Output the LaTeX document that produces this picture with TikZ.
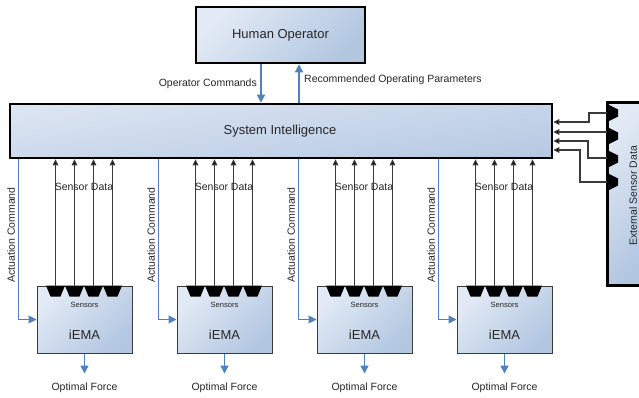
\documentclass[tikz,border=0pt]{standalone}
\usepackage{fontspec}
\setmainfont{Liberation Sans}
\usetikzlibrary{arrows.meta,calc}
\definecolor{boxA}{HTML}{E2EAF5}
\definecolor{boxB}{HTML}{B3C7E1}
\definecolor{siA}{HTML}{DCE5F2}
\definecolor{siB}{HTML}{B7CAE3}
\definecolor{arrowblue}{HTML}{4F81BD}
\definecolor{txt}{HTML}{262626}
\definecolor{lineg}{HTML}{3A3A3A}
\begin{document}
\begin{tikzpicture}[x=1pt,y=-1pt,
  box/.style={draw=black, top color=boxA, bottom color=boxB, shading angle=45, inner sep=0pt},
  bigbox/.style={box, line width=2.6pt},
  sibox/.style={draw=black, top color=siA, bottom color=siB, shading angle=8, inner sep=0pt, line width=2.6pt},
  iemabox/.style={box, draw=lineg, line width=1pt},
  lbl/.style={text=txt, inner sep=0pt, font=\fontsize{10.5}{12}\selectfont},
  biglbl/.style={text=txt, inner sep=0pt, font=\fontsize{13}{15}\selectfont},
  smalllbl/.style={text=txt, inner sep=0pt, font=\fontsize{7.6}{9}\selectfont},
  barrow/.style={draw=arrowblue, line width=1.4pt, -{Triangle[length=8pt,width=8pt]}},
  sens/.style={draw=lineg, line width=1.1pt, -{Triangle[length=6pt,width=5.5pt,fill=black]}}
]
\useasboundingbox (0,0) rectangle (639,398);
\clip (0,0) rectangle (639,398);

% Human operator and system intelligence
\node[bigbox, minimum width=169pt, minimum height=56pt] (ho) at (280.5,35) {};
\node[biglbl] (holbl) at (280.5,35) {Human Operator};
\node[sibox, minimum width=542pt, minimum height=54pt] (si) at (281,131) {};
\node[biglbl] (silbl) at (280,131) {System Intelligence};

\coordinate (oc) at ($(ho.south)+(-19.5,0)$);
\coordinate (rp) at ($(ho.south)+(18.5,0)$);
\draw[barrow] (oc) -- (oc |- si.north);
\draw[barrow] (rp |- si.north) -- (rp);
\node[lbl, anchor=east] (oclbl) at (257,84) {Operator Commands};
\node[lbl, anchor=west] (rplbl) at (304,80) {Recommended Operating Parameters};

% External sensor data
\node[bigbox, line width=3pt, minimum width=45pt, minimum height=182pt] (ext) at (629.5,194) {};
\node[lbl, rotate=90] (extlbl) at (633,196) {External Sensor Data};
\foreach \c in {113,136,159,182} {
  \fill[black] (607,\c-9) .. controls (612,\c-7) .. (618,\c-3.5) -- (618,\c+3.5) .. controls (612,\c+7) .. (607,\c+9) -- cycle;
}
\coordinate (n1) at (607,113);
\coordinate (n2) at (607,132);
\coordinate (n3) at (607,158);
\coordinate (n4) at (607,182);
\coordinate (y1) at (0,122);
\coordinate (y2) at (0,132);
\coordinate (y3) at (0,141);
\coordinate (y4) at (0,150);
\draw[sens] (n1) -- ++(-18,0) |- (si.east |- y1);
\draw[sens] (n2) -- (si.east |- y2);
\draw[sens] (n3) -- ++(-19,0) |- (si.east |- y3);
\draw[sens] (n4) -- ++(-27,0) |- (si.east |- y4);

% iEMA units
\foreach \k in {0,1,2,3} {
  \node[iemabox, minimum width=95pt, minimum height=67pt] (e\k) at (84.5+140*\k,319.5) {};
  \node[smalllbl] (se\k) at (84.5+140*\k,305) {Sensors};
  \node[biglbl] (ie\k) at (84.5+140*\k,335) {iEMA};
  \foreach \j in {0,1,2,3} {
    \fill[black] ($(e\k.north west)+(9.5+19*\j,0)$) -- ++(19,0) -- ++(-4.5,11) -- ++(-10,0) -- cycle;
    \coordinate (s\k\j) at ($(e\k.north west)+(19+19*\j,0)$);
    \draw[sens] (s\k\j) -- (s\k\j |- si.south);
  }
  \node[lbl] (sd\k) at (84+140*\k,187) {Sensor Data};
  \coordinate (ac\k) at ($(e\k.west)+(-18,0)$);
  \draw[barrow, line width=1pt] (ac\k |- si.south) -- (ac\k) -- (e\k.west);
  \node[lbl, rotate=90] (al\k) at (11+140*\k,235) {Actuation Command};
  \coordinate (of\k) at ($(e\k.south)+(0,20)$);
  \draw[barrow] (e\k.south) -- (of\k);
  \node[lbl] (ol\k) at (84.5+140*\k,388) {Optimal Force};
}
\end{tikzpicture}
\end{document}
